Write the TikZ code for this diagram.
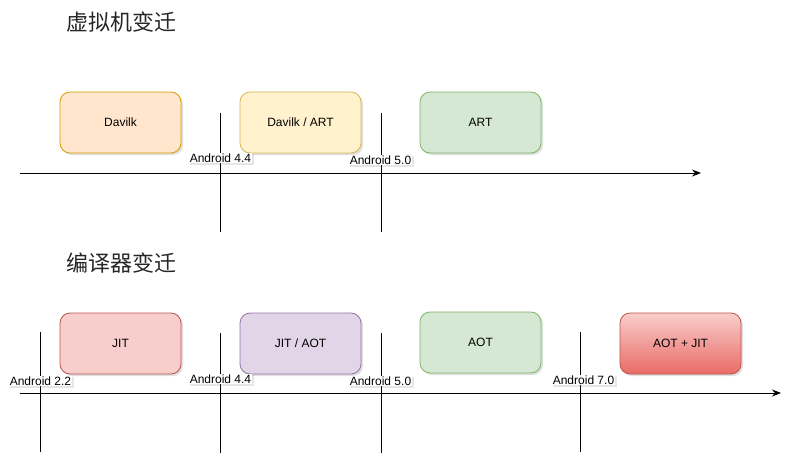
\documentclass[tikz,border=0pt]{standalone}
\usepackage{fontspec}
\setmainfont{Liberation Sans}
\newfontfamily\cjk{Noto Sans CJK SC}
\usetikzlibrary{arrows.meta,shadows}
\definecolor{orfill}{HTML}{FFE6CC}\definecolor{ordraw}{HTML}{D79B00}
\definecolor{yefill}{HTML}{FFF2CC}\definecolor{yedraw}{HTML}{D6B656}
\definecolor{grfill}{HTML}{D5E8D4}\definecolor{grdraw}{HTML}{82B366}
\definecolor{rdfill}{HTML}{F8CECC}\definecolor{rddraw}{HTML}{B85450}
\definecolor{pufill}{HTML}{E1D5E7}\definecolor{pudraw}{HTML}{9673A6}
\definecolor{rdbot}{HTML}{EA6B66}
\tikzset{
  box/.style={draw, rounded corners=10pt, minimum width=121pt, minimum height=61pt,
    line width=0.8pt, font=\fontsize{12}{14}\selectfont,
    drop shadow={shadow xshift=2pt, shadow yshift=-2pt, opacity=0.25, fill=gray}},
  vlab/.style={fill=white, inner sep=1pt, font=\fontsize{12}{14}\selectfont,
    drop shadow={shadow xshift=1.5pt, shadow yshift=-1.5pt, opacity=0.2, fill=gray}},
  title/.style={font=\cjk\fontsize{22}{25}\selectfont, text=black!85},
  axis/.style={line width=0.8pt, -{Stealth[length=9pt,width=7pt]}},
  tick/.style={line width=0.8pt},
}
\begin{document}
\begin{tikzpicture}[x=1pt,y=-1pt]
\useasboundingbox (0,0) rectangle (805,471);
% ---------- top ----------
\node[title, anchor=west] (t1) at (63,22) {虚拟机变迁};
\node[box, fill=orfill, draw=ordraw] (davilk) at (120.5,122.5) {Davilk};
\node[box, fill=yefill, draw=yedraw] (davart) at (300.5,122.5) {Davilk / ART};
\node[box, fill=grfill, draw=grdraw] (art) at (480.5,122.5) {ART};
\coordinate (a1s) at (20,173); \coordinate (a1e) at (701,173);
\draw[axis] (a1s) -- (a1e);
\coordinate (v1t) at (220,113); \coordinate (v1b) at (220,232);
\coordinate (v2t) at (381,113); \coordinate (v2b) at (381,232);
\draw[tick] (v1t) -- (v1b);
\draw[tick] (v2t) -- (v2b);
\node[vlab] (l44a) at (220.5,158) {Android 4.4};
\node[vlab] (l50a) at (380.5,160) {Android 5.0};
% ---------- bottom ----------
\node[title, anchor=west] (t2) at (63,263) {编译器变迁};
\node[box, fill=rdfill, draw=rddraw] (jit) at (120.5,343.5) {JIT};
\node[box, fill=pufill, draw=pudraw] (jitaot) at (300.5,343.5) {JIT / AOT};
\node[box, fill=grfill, draw=grdraw] (aot) at (480.5,342.5) {AOT};
\node[box, top color=rdfill, bottom color=rdbot, draw=rddraw] (aotjit) at (680.5,343.5) {AOT + JIT};
\coordinate (a2s) at (20,393); \coordinate (a2e) at (781,393);
\draw[axis] (a2s) -- (a2e);
\coordinate (w1t) at (40,332); \coordinate (w1b) at (40,452);
\coordinate (w2t) at (220,333); \coordinate (w2b) at (220,453);
\coordinate (w3t) at (381,333); \coordinate (w3b) at (381,453);
\coordinate (w4t) at (580,332); \coordinate (w4b) at (580,452);
\draw[tick] (w1t) -- (w1b);
\draw[tick] (w2t) -- (w2b);
\draw[tick] (w3t) -- (w3b);
\draw[tick] (w4t) -- (w4b);
\node[vlab] (l22) at (40.5,381) {Android 2.2};
\node[vlab] (l44b) at (220.5,379) {Android 4.4};
\node[vlab] (l50b) at (380.5,381) {Android 5.0};
\node[vlab] (l70) at (583.5,380) {Android 7.0};
\end{tikzpicture}
\end{document}
